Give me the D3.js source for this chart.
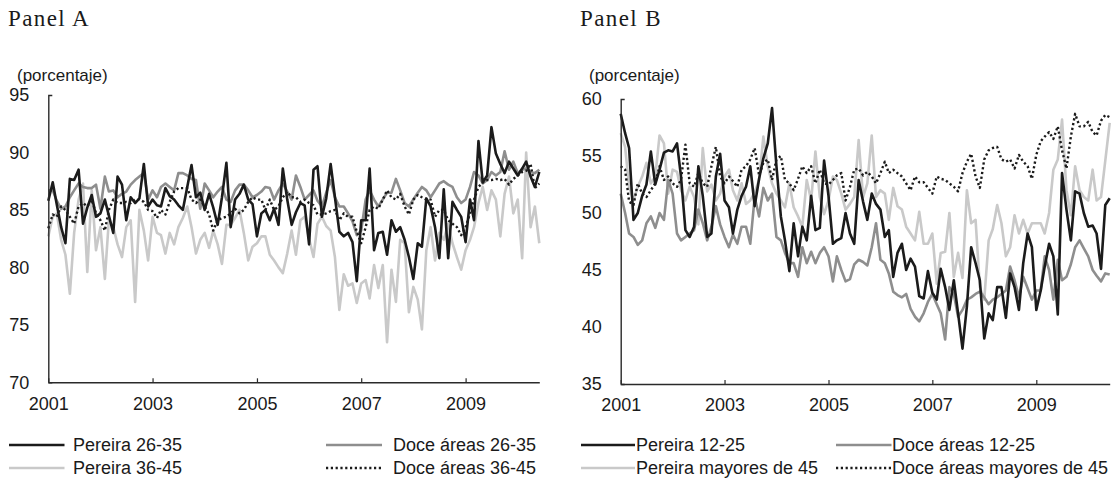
<!DOCTYPE html>
<html>
<head>
<meta charset="utf-8">
<script src="https://cdn.jsdelivr.net/npm/d3@7/dist/d3.min.js"></script>
<style>
  html, body { margin: 0; padding: 0; background: #fff; }
  svg text { font-family: "Liberation Sans", Arial, Helvetica, sans-serif; fill: #1a1a1a; }
  .title { font-family: "Liberation Serif", "Times New Roman", serif; }
</style>
</head>
<body>
<svg id="chart" width="1118" height="479"></svg>
<script>
// Monthly series, January 2001 – June 2010 (percent)
const yearTicks = [2001, 2003, 2005, 2007, 2009];
const yTicksA = [70, 75, 80, 85, 90, 95];
const yTicksB = [35, 40, 45, 50, 55, 60];

// Panel A
const pereira2635 = [
  85.8, 87.4, 85.5, 83.5, 82.1, 87.7, 87.6, 88.5, 83.8, 85.2, 86.3, 84.4,
  84.7, 85.9, 84.5, 83.0, 87.9, 87.2, 84.1, 86.1, 85.6, 86.0, 89.0, 85.3,
  85.9, 85.4, 85.3, 86.9, 86.2, 85.9, 85.4, 85.0, 87.0, 88.9, 86.1, 86.5,
  85.0, 86.4, 85.2, 83.7, 86.1, 89.1, 83.5, 85.9, 86.4, 87.2, 85.9, 85.5,
  82.7, 84.7, 85.0, 84.1, 85.1, 83.7, 88.6, 85.9, 83.7, 84.8, 85.6, 85.4,
  82.0, 88.5, 88.8, 84.4, 86.0, 89.0, 86.1, 83.1, 82.7, 83.0, 82.2, 78.8,
  84.1, 84.1, 88.6, 81.5, 83.0, 83.1, 81.1, 84.1, 83.1, 83.5, 82.4, 80.9,
  79.0, 82.1, 81.8, 86.0, 85.3, 83.5, 80.8, 86.8, 80.8, 85.7, 85.0, 84.4,
  82.2, 85.9, 84.1, 91.0, 87.4, 88.0, 92.2, 89.9, 89.0, 88.2, 89.2, 88.6,
  88.0, 88.6, 89.2, 87.9, 87.0, 88.3
];
const doce2635 = [
  86.7, 86.7, 85.8, 85.1, 85.3, 86.1, 86.7, 87.3, 87.0, 86.9, 86.9, 87.2,
  85.1, 87.9, 86.6, 86.7, 86.1, 86.4, 86.6, 87.2, 87.6, 87.9, 88.2, 85.9,
  86.7, 86.1, 87.0, 87.3, 87.0, 86.7, 88.2, 88.2, 88.0, 87.7, 87.6, 85.1,
  87.3, 86.7, 86.1, 86.6, 87.0, 85.9, 85.7, 86.7, 87.2, 87.2, 86.7, 86.1,
  86.3, 86.6, 87.0, 86.9, 85.9, 86.7, 87.3, 86.6, 85.9, 88.0, 87.0, 85.9,
  86.3, 86.7, 85.8, 85.3, 86.5, 87.6, 86.1, 85.3, 85.3, 84.7, 84.0, 82.8,
  83.2, 85.9, 86.7, 85.9, 85.3, 85.9, 86.5, 86.5, 87.7, 86.7, 85.6, 85.3,
  85.9, 86.5, 87.0, 86.7, 86.1, 86.7, 87.3, 87.5, 87.2, 87.0, 86.1, 85.6,
  85.9, 87.0, 88.3, 88.0, 87.3, 87.6, 88.3, 88.0, 88.3, 90.1, 88.5, 89.2,
  88.2, 88.5, 88.6, 88.3, 88.2, 88.5
];
const pereira3645 = [
  82.7, 84.4, 84.7, 82.4, 81.1, 77.7, 83.0, 85.9, 87.3, 79.6, 86.7, 81.5,
  83.5, 79.0, 84.1, 83.5, 82.0, 80.9, 83.5, 84.1, 77.0, 85.0, 83.2, 80.6,
  84.4, 83.0, 82.8, 81.2, 83.0, 82.0, 83.5, 84.3, 85.3, 83.5, 81.2, 82.4,
  83.0, 81.7, 83.2, 82.0, 80.3, 83.7, 83.7, 84.3, 85.0, 83.0, 80.6, 81.8,
  82.1, 82.7, 82.7, 81.1, 80.6, 80.0, 79.5, 81.2, 83.2, 81.1, 84.1, 84.4,
  82.5, 80.9, 83.8, 84.4, 83.6, 83.2, 80.9, 76.3, 79.4, 78.4, 78.6, 76.9,
  78.6, 78.9, 77.3, 80.2, 78.2, 80.2, 73.5, 79.8, 77.0, 82.4, 82.1, 76.1,
  78.3, 77.2, 74.6, 81.5, 83.5, 80.6, 83.0, 82.4, 83.8, 82.1, 80.9, 79.8,
  81.5, 82.4, 83.5, 85.6, 87.0, 85.0, 86.7, 85.9, 82.7, 86.4, 87.9, 84.7,
  85.9, 80.8, 90.0, 83.5, 85.3, 82.1
];
const doce3645 = [
  83.4, 84.6, 84.4, 85.3, 85.0, 84.4, 83.8, 85.3, 85.6, 85.3, 85.9, 84.7,
  84.1, 83.2, 85.0, 85.9, 85.6, 85.6, 85.7, 85.6, 85.9, 85.9, 85.7, 85.0,
  84.9, 84.3, 85.0, 84.6, 85.7, 86.6, 86.9, 86.9, 86.9, 85.9, 85.6, 85.9,
  85.3, 84.6, 83.2, 84.1, 84.3, 84.4, 84.7, 85.1, 84.7, 85.0, 85.7, 86.1,
  85.9, 85.9, 85.0, 85.9, 85.0, 85.3, 86.1, 86.6, 86.1, 86.1, 85.7, 85.9,
  85.6, 85.4, 84.6, 84.6, 84.7, 84.9, 85.0, 84.1, 84.7, 84.4, 84.4, 83.1,
  82.1, 83.5, 85.0, 85.3, 85.1, 85.9, 86.7, 86.1, 85.9, 86.4, 85.3, 84.6,
  85.9, 86.3, 86.1, 85.9, 85.9, 84.4, 85.0, 85.0, 84.1, 83.8, 83.5, 82.8,
  83.5, 84.7, 85.9, 87.0, 87.4, 87.6, 87.6, 87.7, 87.6, 87.7, 87.2, 87.7,
  88.0, 88.3, 88.4, 89.0, 86.9, 87.3
];

// Panel B
const pereira1225 = [
  58.7, 57.0, 55.7, 49.4, 50.0, 51.5, 52.5, 55.4, 52.5, 53.8, 55.3, 55.5,
  55.4, 56.1, 53.2, 48.5, 47.9, 48.8, 54.1, 51.5, 47.9, 48.2, 53.2, 55.2,
  51.1, 50.5, 48.2, 50.3, 51.5, 52.3, 54.1, 50.6, 53.0, 54.8, 56.1, 59.2,
  54.1, 49.7, 47.6, 44.9, 49.1, 46.2, 48.8, 47.6, 51.5, 48.5, 48.7, 54.6,
  51.5, 47.3, 47.6, 47.8, 50.0, 48.2, 47.3, 52.9, 51.0, 49.4, 51.7, 50.8,
  50.3, 47.9, 48.5, 44.4, 46.5, 47.3, 45.0, 46.0, 45.3, 42.7, 42.5, 44.9,
  43.0, 42.4, 45.1, 43.5, 41.5, 44.1, 41.2, 38.1, 41.8, 47.0, 45.6, 44.1,
  39.0, 41.2, 40.6, 43.5, 43.5, 40.8, 44.7, 43.5, 41.5, 45.6, 48.2, 47.0,
  41.5, 43.2, 45.3, 47.3, 46.2, 41.1, 53.5, 50.3, 47.6, 51.9, 51.7, 50.0,
  48.8, 48.9, 48.2, 45.1, 50.7, 51.3
];
const doce1225 = [
  51.7, 50.0, 48.2, 47.9, 47.2, 47.6, 49.1, 49.7, 48.7, 50.0, 49.4, 52.9,
  51.7, 48.2, 47.6, 47.9, 48.2, 48.5, 50.3, 49.1, 47.6, 48.8, 50.6, 49.0,
  47.9, 47.0, 48.1, 47.3, 48.8, 48.8, 47.3, 51.4, 49.7, 52.2, 51.1, 51.7,
  47.9, 47.6, 46.5, 45.6, 45.6, 44.4, 47.0, 45.6, 46.6, 45.6, 46.5, 47.0,
  46.2, 44.0, 46.2, 45.0, 44.0, 44.2, 45.5, 45.9, 45.7, 45.4, 47.0, 49.1,
  45.9, 45.6, 44.7, 43.1, 42.8, 42.6, 42.9, 41.6, 40.9, 40.5, 41.2, 42.2,
  42.9, 42.0, 41.2, 38.9, 43.5, 42.9, 40.9, 41.5, 42.4, 42.6, 42.9, 43.1,
  42.6, 42.0, 42.4, 42.6, 42.9, 43.2, 45.3, 44.1, 42.6, 44.4, 43.4, 42.4,
  43.2, 43.2, 46.2, 45.0, 42.4, 45.9, 44.1, 44.4, 45.5, 47.0, 47.6, 46.9,
  46.2, 45.0, 44.5, 44.0, 44.7, 44.6
];
const pereiraMay45 = [
  57.0, 55.8, 52.3, 51.1, 52.3, 53.2, 54.4, 52.6, 53.2, 56.8, 56.1, 51.7,
  53.8, 53.6, 52.0, 51.1, 52.3, 51.4, 49.0, 55.7, 51.9, 52.5, 51.1, 51.7,
  53.2, 53.8, 52.0, 51.1, 52.6, 50.8, 51.1, 51.8, 52.9, 56.7, 54.1, 52.6,
  51.7, 51.1, 50.5, 52.6, 50.5, 49.7, 48.8, 52.9, 51.1, 55.4, 51.4, 49.9,
  51.1, 53.2, 52.9, 51.7, 50.3, 50.8, 51.4, 56.4, 51.4, 52.6, 56.8, 51.4,
  52.0, 51.7, 49.4, 52.2, 50.6, 50.3, 48.8, 48.2, 47.6, 50.1, 47.3, 47.3,
  48.2, 43.8, 46.5, 46.6, 50.0, 44.4, 46.5, 44.3, 52.0, 49.1, 49.4, 43.5,
  42.4, 47.6, 48.6, 50.7, 49.1, 46.2, 47.0, 49.8, 48.2, 49.4, 48.2, 49.1,
  49.1, 49.1, 48.2, 50.0, 53.8, 54.7, 58.2, 52.0, 49.8, 54.1, 52.0, 51.4,
  51.1, 53.8, 51.1, 51.4, 54.6, 57.9
];
const doceMay45 = [
  54.1, 53.8, 51.0, 50.7, 52.6, 51.7, 51.4, 52.0, 52.6, 54.1, 52.9, 53.2,
  52.6, 52.3, 52.9, 56.0, 52.6, 52.3, 53.5, 52.6, 52.3, 54.1, 55.8, 53.2,
  52.6, 53.2, 52.8, 52.3, 53.8, 54.1, 54.7, 55.7, 53.3, 54.4, 54.7, 52.9,
  54.7, 55.0, 52.9, 52.6, 52.0, 53.0, 54.1, 53.5, 54.1, 52.6, 53.8, 52.6,
  52.5, 52.9, 53.3, 53.5, 51.1, 52.3, 53.8, 53.9, 53.3, 53.6, 53.2, 52.6,
  53.5, 54.5, 53.5, 53.8, 53.5, 53.2, 52.6, 52.0, 53.2, 52.7, 52.7, 52.2,
  51.7, 53.2, 53.0, 52.9, 52.6, 52.3, 51.9, 53.5, 54.5, 55.2, 53.2, 52.2,
  54.7, 55.5, 55.7, 55.8, 54.7, 54.5, 54.7, 53.9, 55.1, 54.5, 54.1, 53.0,
  55.1, 56.3, 56.7, 57.1, 56.5, 57.6, 55.5, 53.9, 56.7, 58.7, 57.6, 57.6,
  58.0, 57.1, 56.8, 58.1, 58.6, 58.4
];

const styles = {
  black: { stroke: "#1b1b1b", dash: null },
  mid:   { stroke: "#8e8e8e", dash: null },
  light: { stroke: "#c9c9c9", dash: null },
  dots:  { stroke: "#1b1b1b", dash: "2.2,2.6" }
};

const panels = [
  {
    title: "Panel A", titleX: 8,
    x0: 48.3, x1: 539.3, yTop: 95, yBottom: 382.3, yDomain: [70, 95], yTicks: yTicksA,
    unitX: 17, labelPad: 19, tickPad: 15,
    series: [
      { name: "Pereira 36-45", values: pereira3645, style: "light" },
      { name: "Doce áreas 26-35", values: doce2635, style: "mid" },
      { name: "Doce áreas 36-45", values: doce3645, style: "dots" },
      { name: "Pereira 26-35", values: pereira2635, style: "black" }
    ],
    legend: [
      { name: "Pereira 26-35", style: "black", lx: 9, lw: 55.5, tx: 73, row: 0 },
      { name: "Doce áreas 26-35", style: "mid", lx: 326, lw: 56, tx: 393, row: 0 },
      { name: "Pereira 36-45", style: "light", lx: 9, lw: 55.5, tx: 73, row: 1 },
      { name: "Doce áreas 36-45", style: "dots", lx: 326, lw: 56, tx: 393, row: 1 }
    ]
  },
  {
    title: "Panel B", titleX: 580,
    x0: 620.7, x1: 1109.7, yTop: 99, yBottom: 384, yDomain: [35, 60], yTicks: yTicksB,
    unitX: 589, labelPad: 19, tickPad: 14,
    series: [
      { name: "Pereira mayores de 45", values: pereiraMay45, style: "light" },
      { name: "Doce áreas 12-25", values: doce1225, style: "mid" },
      { name: "Doce áreas mayores de 45", values: doceMay45, style: "dots" },
      { name: "Pereira 12-25", values: pereira1225, style: "black" }
    ],
    legend: [
      { name: "Pereira 12-25", style: "black", lx: 581, lw: 54, tx: 636, row: 0 },
      { name: "Doce áreas 12-25", style: "mid", lx: 836, lw: 55.5, tx: 892, row: 0 },
      { name: "Pereira mayores de 45", style: "light", lx: 581, lw: 54, tx: 636, row: 1 },
      { name: "Doce áreas mayores de 45", style: "dots", lx: 836, lw: 55.5, tx: 892, row: 1 }
    ]
  }
];

const svg = d3.select("#chart");
const startDate = new Date(2001, 0, 1);
const monthDate = i => new Date(2001, i, 1);
const legendRows = [445, 468];

panels.forEach(p => {
  const n = p.series[0].values.length;
  const x = d3.scaleTime()
    .domain([startDate, monthDate(n - 1)])
    .range([p.x0, p.x1]);
  const y = d3.scaleLinear()
    .domain(p.yDomain)
    .range([p.yBottom, p.yTop]);

  const g = svg.append("g");

  // Title
  g.append("text")
    .attr("class", "title")
    .attr("x", p.titleX)
    .attr("y", 26)
    .attr("font-size", 23)
    .attr("letter-spacing", 1.4)
    .text(p.title);

  // Unit label
  g.append("text")
    .attr("x", p.unitX)
    .attr("y", 81)
    .attr("font-size", 17)
    .text("(porcentaje)");

  // Lines
  const line = d3.line()
    .x((d, i) => x(monthDate(i)))
    .y(d => y(d));

  p.series.forEach(s => {
    const st = styles[s.style];
    g.append("path")
      .datum(s.values)
      .attr("fill", "none")
      .attr("stroke", st.stroke)
      .attr("stroke-width", s.style === "dots" ? 2.4 : 2.6)
      .attr("stroke-linejoin", "round")
      .attr("stroke-dasharray", st.dash)
      .attr("d", line);
  });

  // Y axis
  const yAxis = d3.axisLeft(y)
    .tickValues(p.yTicks)
    .tickSizeInner(0)
    .tickSizeOuter(-4)
    .tickPadding(p.labelPad)
    .tickFormat(d3.format("d"));
  const gy = g.append("g")
    .attr("transform", `translate(${p.x0},0)`)
    .call(yAxis);
  gy.select(".domain").attr("stroke", "#2a2a2a").attr("stroke-width", 1.4);
  gy.selectAll("text").attr("font-size", 18).attr("fill", "#1a1a1a")
    .attr("font-family", "Liberation Sans, Arial, sans-serif");

  // X axis
  const xAxis = d3.axisBottom(x)
    .tickValues(yearTicks.map(yr => new Date(yr, 0, 1)))
    .tickSizeInner(-4)
    .tickSizeOuter(0)
    .tickPadding(p.tickPad)
    .tickFormat(d3.timeFormat("%Y"));
  const gx = g.append("g")
    .attr("transform", `translate(0,${p.yBottom})`)
    .call(xAxis);
  gx.select(".domain").attr("stroke", "#2a2a2a").attr("stroke-width", 1.4);
  gx.selectAll(".tick line").attr("stroke", "#2a2a2a").attr("stroke-width", 1.2);
  gx.selectAll("text").attr("font-size", 18).attr("fill", "#1a1a1a")
    .attr("font-family", "Liberation Sans, Arial, sans-serif");

  // Legend
  p.legend.forEach(item => {
    const st = styles[item.style];
    const ly = legendRows[item.row];
    g.append("line")
      .attr("x1", item.lx).attr("x2", item.lx + item.lw)
      .attr("y1", ly).attr("y2", ly)
      .attr("stroke", st.stroke)
      .attr("stroke-width", item.style === "dots" ? 2.4 : 2.6)
      .attr("stroke-dasharray", st.dash);
    g.append("text")
      .attr("x", item.tx)
      .attr("y", ly)
      .attr("dy", "0.35em")
      .attr("font-size", 18)
      .text(item.name);
  });
});
</script>
</body>
</html>
